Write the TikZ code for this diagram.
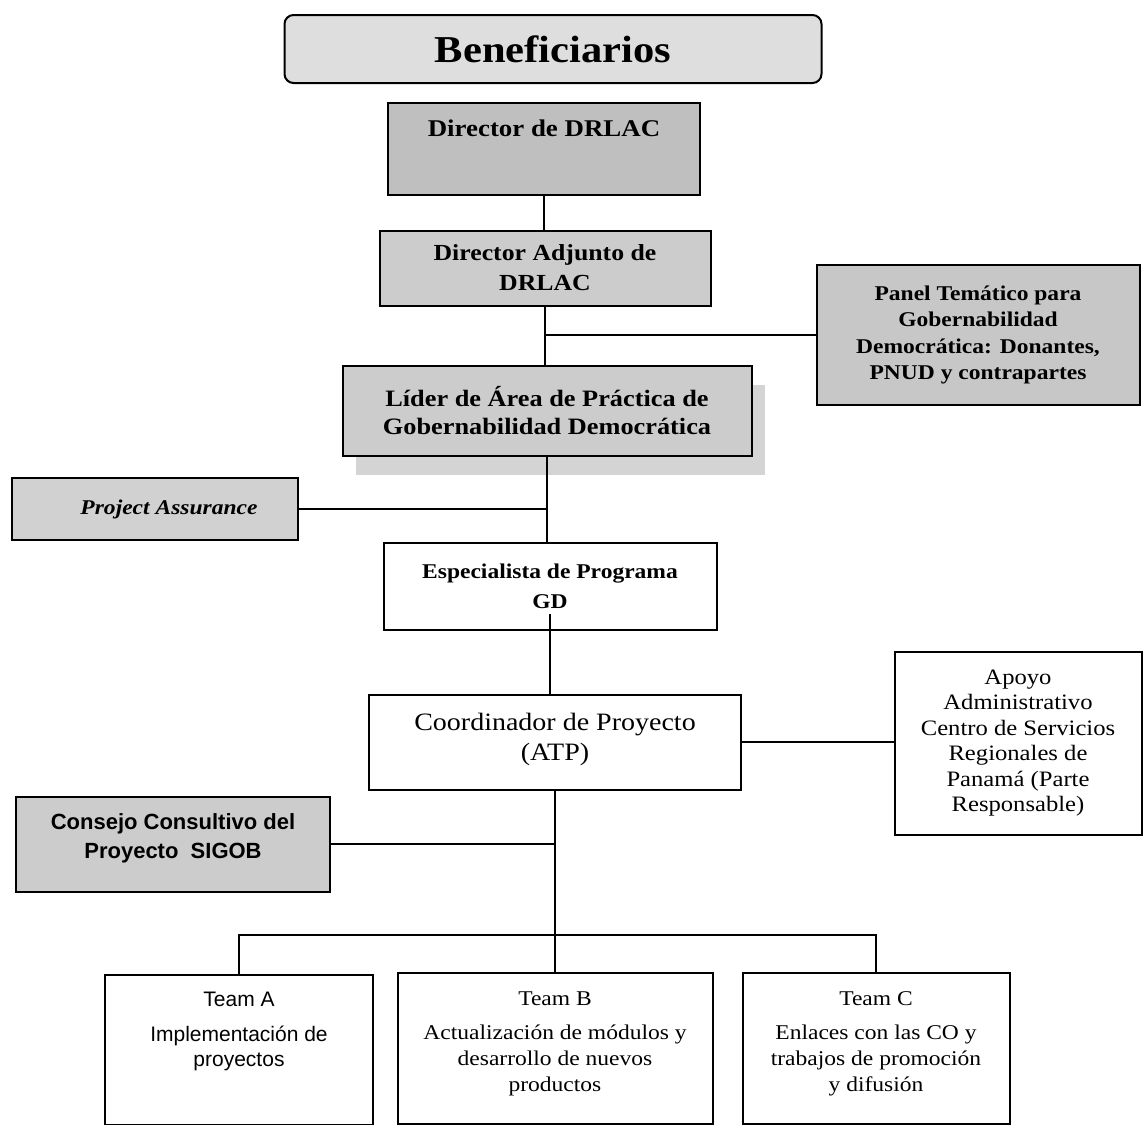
\documentclass[tikz,border=0pt]{standalone}
\usepackage{fontspec}
\setmainfont[FakeStretch=1.12]{Liberation Serif}
\newfontfamily\arialish{Liberation Sans}
\usetikzlibrary{positioning,shadows}

\newcommand{\fsz}[2]{\fontsize{#1}{#2}\selectfont}

\begin{document}
\begin{tikzpicture}[x=1pt, y=-1pt,
	box/.style={draw, line width=2pt, align=center, inner sep=0pt},
	graybox/.style={box, fill=black!20},
	whitebox/.style={box, fill=white},
	boxtext/.style={inner sep=0pt, align=center},
	link/.style={line width=1.5pt}]
	\useasboundingbox (0,0) rectangle (1144,1125);

	% Nodes {top of the chart}
	\node [graybox, fill=black!13, rounded corners=9pt, minimum width=537pt, minimum height=68pt, font=\fsz{38}{44}\bfseries] (benef) at (553,49) {Beneficiarios};
	\node [graybox, fill=black!25, minimum width=312pt, minimum height=92pt] (dir) at (544,149) {};
	\node [boxtext, font=\fsz{24}{28}\bfseries, below=18pt of dir.north] (dirtxt) {Director de DRLAC};
	\node [graybox, minimum width=331pt, minimum height=75pt, font=\fsz{23}{30}\bfseries] (adj) at (545,268) {Director Adjunto de\\DRLAC};
	\node [graybox, fill=black!22, minimum width=323pt, minimum height=140pt, font=\fsz{21}{26.5}\bfseries] (panel) at (978,335) {Panel Temático para\\Gobernabilidad\\Democrática: Donantes,\\PNUD y contrapartes};
	\node [graybox, minimum width=409pt, minimum height=90pt, font=\fsz{23.5}{28}\bfseries,
		general shadow={fill=black!17, shadow xshift=13pt, shadow yshift=-19pt}] (lider) at (547,411) {Líder de Área de Práctica de\\Gobernabilidad Democrática};
	\node [graybox, fill=black!18, minimum width=286pt, minimum height=62pt, font=\fsz{21}{26}\bfseries\itshape] (pa) at (155,509) {\hspace{28pt}Project Assurance};

	% Nodes {middle of the chart}
	\node [whitebox, minimum width=333pt, minimum height=87pt, font=\fsz{21}{30}\bfseries] (esp) at (550,586) {Especialista de Programa\\GD};
	\node [whitebox, minimum width=372pt, minimum height=95pt, font=\fsz{25}{30}] (coord) at (555,742) {Coordinador de Proyecto\\(ATP)\\[-20pt]~};
	\node [whitebox, minimum width=247pt, minimum height=183pt, font=\fsz{22}{25.5}] (apoyo) at (1018,743) {Apoyo\\Administrativo\\Centro de Servicios\\Regionales de\\Panamá (Parte\\Responsable)};
	\node [graybox, minimum width=314pt, minimum height=95pt, font=\arialish\fsz{22}{29}\bfseries] (consejo) at (173,844) {Consejo Consultivo del\\Proyecto\ \ SIGOB\\[-14pt]~};

	% Nodes {teams}
	\node [whitebox, minimum width=268pt, minimum height=150pt] (teamA) at (239,1050) {};
	\node [whitebox, minimum width=315pt, minimum height=151pt] (teamB) at (555,1048) {};
	\node [whitebox, minimum width=267pt, minimum height=151pt] (teamC) at (876,1048) {};
	\node [boxtext, font=\arialish\fsz{21}{25.5}, below=18pt of teamA.north] (teamAtxt) {Team A\\[9pt]Implementación de\\proyectos};
	\node [boxtext, font=\fsz{21}{26}, below=20pt of teamB.north] (teamBtxt) {Team B\\[8pt]Actualización de módulos y\\desarrollo de nuevos\\productos};
	\node [boxtext, font=\fsz{21}{26}, below=20pt of teamC.north] (teamCtxt) {Team C\\[8pt]Enlaces con las CO y\\trabajos de promoción\\y difusión};

	\coordinate (bus) at (555,935);

	% Paths {top}
	\draw [link] (dir.south) -- (dir.south |- adj.north);
	\draw [link] (adj.south) -- (adj.south |- lider.north);
	\draw [link] (panel.west) -- (panel.west -| adj.south);
	\draw [link] (lider.south) -- (lider.south |- esp.north);
	\draw [link] (pa.east) -- (pa.east -| lider.south);

	% Paths {middle}
	\draw [link] ([yshift=17pt]esp.south) -- (esp.south |- coord.north);
	\draw [link] (coord.east) -- (coord.east -| apoyo.west);
	\draw [link] (coord.south) -- (bus);
	\draw [link] (consejo.east) -- (consejo.east -| bus);

	% Paths {teams}
	\draw [link] (teamA.north) |- (bus) -| (teamC.north);
	\draw [link] (bus) -- (bus -| teamB.north) -- (teamB.north);
\end{tikzpicture}
\end{document}
